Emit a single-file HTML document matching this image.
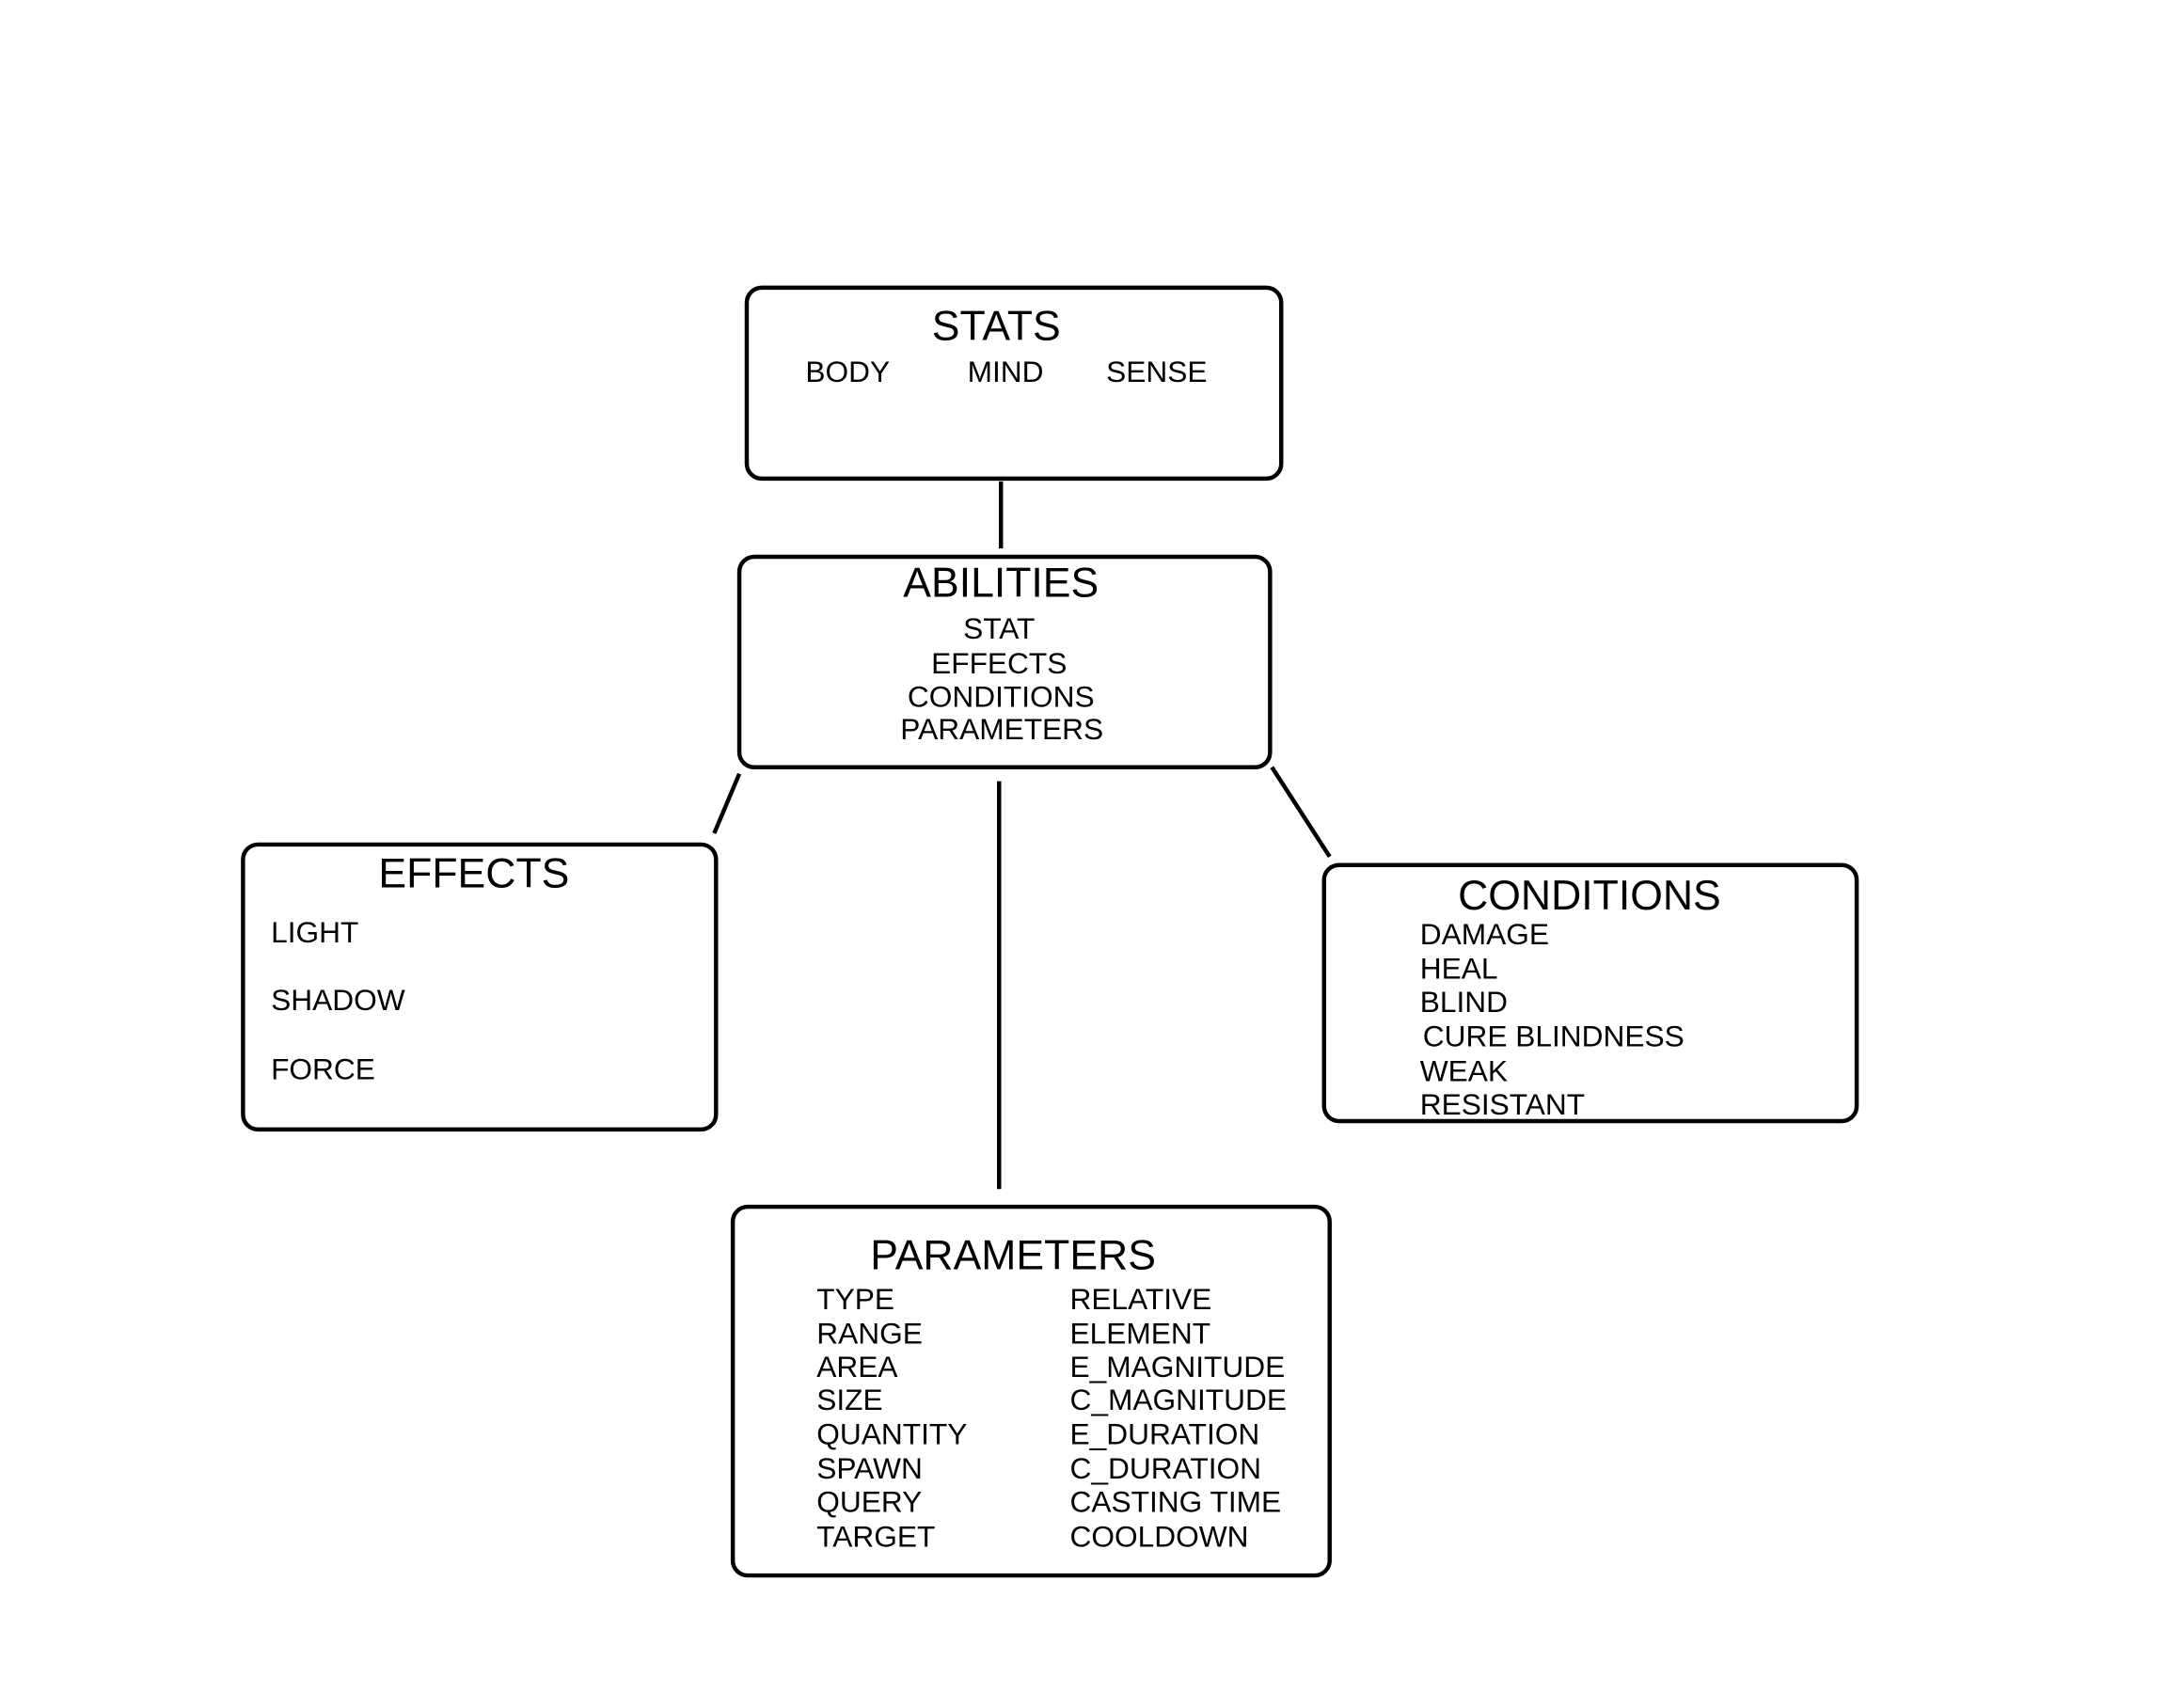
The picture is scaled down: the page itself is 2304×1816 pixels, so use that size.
<!DOCTYPE html>
<html><head><style>html,body{margin:0;padding:0;background:#fff}svg{display:block}</style></head>
<body>
<svg width="2304" height="1816" viewBox="0 0 2304 1816" xmlns="http://www.w3.org/2000/svg" font-family="Liberation Sans, sans-serif" fill="#000">
<g transform="scale(0.99)">
<g fill="none" stroke="#000" stroke-width="4.5">
<rect x="802" y="309" width="574" height="205" rx="16"/>
<rect x="794" y="598" width="570" height="226" rx="16"/>
<rect x="261" y="907" width="508" height="306" rx="16"/>
<rect x="1422" y="929" width="572" height="275" rx="16"/>
<rect x="787" y="1296" width="641" height="396" rx="16"/>
<line x1="1075" y1="517" x2="1075" y2="589"/>
<line x1="1073" y1="839" x2="1073" y2="1277"/>
<line x1="794" y1="831" x2="767" y2="895"/>
<line x1="1366" y1="824" x2="1428" y2="920"/>
</g>
<g font-size="45" text-anchor="middle">
<text x="1070" y="365">STATS</text>
<text x="1075" y="641">ABILITIES</text>
<text x="509" y="953">EFFECTS</text>
<text x="1707" y="977">CONDITIONS</text>
<text x="1088" y="1363">PARAMETERS</text>
</g>
<g font-size="32">
<text x="865" y="410">BODY</text>
<text x="1039" y="410">MIND</text>
<text x="1188" y="410">SENSE</text>
<g text-anchor="middle">
<text x="1073" y="686">STAT</text>
<text x="1073" y="723">EFFECTS</text>
<text x="1075" y="759">CONDITIONS</text>
<text x="1076" y="794">PARAMETERS</text>
</g>
<text x="291" y="1012">LIGHT</text>
<text x="291" y="1085">SHADOW</text>
<text x="291" y="1159">FORCE</text>
<text x="1525" y="1014">DAMAGE</text>
<text x="1525" y="1051">HEAL</text>
<text x="1525" y="1087">BLIND</text>
<text x="1528" y="1124">CURE BLINDNESS</text>
<text x="1525" y="1161">WEAK</text>
<text x="1525" y="1197">RESISTANT</text>
<text x="877" y="1406">TYPE</text>
<text x="877" y="1443">RANGE</text>
<text x="877" y="1479">AREA</text>
<text x="877" y="1514">SIZE</text>
<text x="877" y="1551">QUANTITY</text>
<text x="877" y="1588">SPAWN</text>
<text x="877" y="1624">QUERY</text>
<text x="877" y="1661">TARGET</text>
<text x="1149" y="1406">RELATIVE</text>
<text x="1149" y="1443">ELEMENT</text>
<text x="1149" y="1479">E_MAGNITUDE</text>
<text x="1149" y="1514">C_MAGNITUDE</text>
<text x="1149" y="1551">E_DURATION</text>
<text x="1149" y="1588">C_DURATION</text>
<text x="1149" y="1624">CASTING TIME</text>
<text x="1149" y="1661">COOLDOWN</text>
</g>
</g>
</svg>
</body></html>
